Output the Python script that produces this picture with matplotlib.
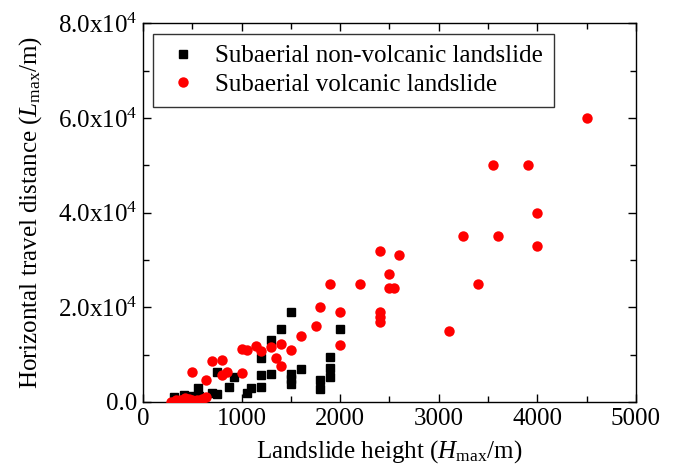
import numpy as np
import matplotlib.pyplot as plt
from matplotlib.ticker import MultipleLocator, FuncFormatter

plt.rcParams['font.family'] = 'Liberation Serif'
plt.rcParams['mathtext.fontset'] = 'custom'
plt.rcParams['mathtext.rm'] = 'Liberation Serif'
plt.rcParams['mathtext.it'] = 'Liberation Serif:italic'

# subaerial non-volcanic landslides (height m, travel distance m)
nonvolc_h = [310, 420, 500, 570, 560, 700, 750, 750, 870, 920, 1050, 1100,
             1200, 1200, 1200, 1300, 1300, 1400, 1500, 1500, 1500, 1500,
             1600, 1800, 1800, 1900, 1900, 1900, 2000]
nonvolc_l = [1000, 1400, 1300, 1300, 3000, 2000, 1600, 6300, 3200, 5200, 2000, 3000,
             9300, 5600, 3200, 13000, 5900, 15500, 19000, 5900, 4800, 3800,
             7000, 4600, 2700, 9600, 7200, 5200, 15500]

# subaerial volcanic landslides
volc_h = [280, 330, 380, 430, 470, 500, 550, 600, 640, 640, 500, 700, 800, 800,
          850, 1000, 1000, 1050, 1150, 1200, 1300, 1350, 1400, 1400, 1500,
          1600, 1750, 1800, 1900, 2000, 2000, 2200, 2400, 2400, 2400, 2400,
          2500, 2500, 2550, 2600, 3100, 3250, 3400, 3550, 3600, 3900, 4000,
          4000, 4500]
volc_l = [100, 500, 500, 800, 700, 500, 400, 600, 1000, 4600, 6300, 8700, 8800, 5600,
          6300, 6200, 11300, 11000, 11800, 10700, 11700, 9200, 12300, 7600, 11000,
          14000, 16000, 20000, 25000, 19000, 12000, 25000, 32000, 19000, 18000, 17000,
          27000, 24000, 24000, 31000, 15000, 35000, 25000, 50000, 35000, 50000, 40000,
          33000, 60000]

fig = plt.figure(figsize=(6.76, 4.69), dpi=100)
ax = fig.add_axes((0.2115, 0.1429, 0.7293, 0.8071))

ax.plot(nonvolc_h, nonvolc_l, 's', color='black', markersize=6,
        label='Subaerial non-volcanic landslide', zorder=3)
ax.plot(volc_h, volc_l, 'o', color='red', markersize=7.5, markeredgewidth=0,
        label='Subaerial volcanic landslide', zorder=3)

ax.set_xlim(0, 5000)
ax.set_ylim(0, 80000)
ax.xaxis.set_major_locator(MultipleLocator(1000))
ax.xaxis.set_minor_locator(MultipleLocator(500))
ax.yaxis.set_major_locator(MultipleLocator(20000))
ax.yaxis.set_minor_locator(MultipleLocator(10000))


def sci(v, pos):
    if v == 0:
        return '0.0'
    return '%.1fx10$^{4}$' % (v / 1e4)


ax.yaxis.set_major_formatter(FuncFormatter(sci))
ax.tick_params(which='both', direction='in', labelsize=18, width=1)
ax.tick_params(which='major', length=6, pad=4)
ax.tick_params(which='minor', length=4)
ax.tick_params(which='both', top=True, right=True)
for s in ax.spines.values():
    s.set_linewidth(1)

ax.set_xlabel('Landslide height ($H_{\\rm max}$/m)', fontsize=18, labelpad=6)
ax.set_ylabel('Horizontal travel distance ($L_{\\rm max}$/m)', fontsize=18, labelpad=10)

leg = ax.legend(loc='upper left', bbox_to_anchor=(0.021, 0.973), fontsize=18,
                frameon=True, fancybox=False, edgecolor='black', borderaxespad=0,
                handletextpad=0.5, borderpad=0.45, labelspacing=0.25, handlelength=1.5)
leg.get_frame().set_linewidth(1)

fig.savefig('out.png', dpi=100)
